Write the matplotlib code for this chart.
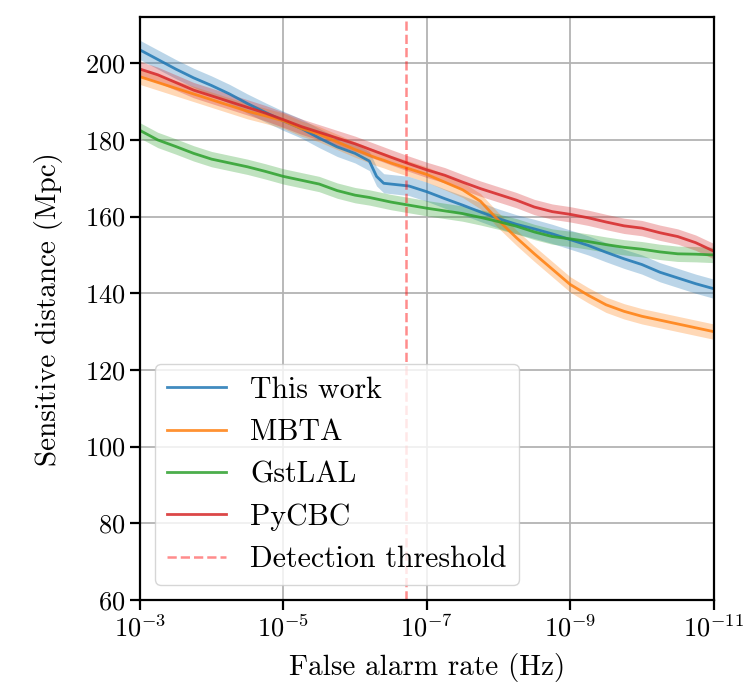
import numpy as np
import matplotlib
matplotlib.use("Agg")
import matplotlib.pyplot as plt

plt.rcParams['font.family'] = 'serif'
plt.rcParams['font.serif'] = ['cmr10', 'DejaVu Serif']
plt.rcParams['mathtext.fontset'] = 'cm'
plt.rcParams['axes.unicode_minus'] = False
plt.rcParams['axes.formatter.use_mathtext'] = True
plt.rcParams['font.size'] = 21

# false alarm rate exponents (log10 Hz)
far_exp = [-3.0, -3.25, -3.5, -3.75, -4.0, -4.25, -4.5, -4.75, -5.0, -5.25, -5.5,
           -5.75, -6.0, -6.1, -6.2, -6.3, -6.4, -6.5, -6.75, -7.0, -7.25, -7.5,
           -7.75, -8.0, -8.25, -8.5, -8.75, -9.0, -9.25, -9.5, -9.75, -10.0,
           -10.25, -10.5, -10.75, -11.0]

this_work = [203.5, 201.0, 198.5, 196.2, 194.2, 192.0, 189.5, 187.2, 185.0, 183.0, 180.5,
             178.2, 176.5, 175.5, 174.5, 170.5, 168.7, 168.5, 168.0, 166.5, 164.7, 163.0,
             161.2, 159.5, 158.0, 156.8, 155.5, 154.0, 152.5, 150.7, 149.0, 147.5,
             145.5, 144.0, 142.5, 141.2]
mbta = [196.5, 195.0, 193.5, 192.0, 190.5, 189.0, 187.5, 186.3, 185.0, 183.0, 181.5,
        179.5, 177.5, 176.8, 176.0, 175.3, 174.7, 174.0, 172.5, 171.0, 169.0, 167.0,
        164.0, 159.0, 154.5, 150.3, 146.3, 142.3, 139.5, 137.0, 135.3, 134.0,
        133.0, 132.0, 131.0, 130.0]
gstlal = [182.5, 180.0, 178.3, 176.5, 175.0, 174.0, 173.0, 171.8, 170.5, 169.5, 168.5,
          166.8, 165.6, 165.3, 165.0, 164.6, 164.2, 163.8, 163.0, 162.2, 161.5, 160.8,
          159.8, 158.7, 157.5, 156.0, 154.8, 154.2, 153.5, 152.7, 152.0, 151.5,
          150.8, 150.3, 150.2, 150.0]
pycbc = [198.5, 197.0, 195.0, 193.0, 191.5, 190.0, 188.5, 187.0, 185.3, 183.5, 182.0,
         180.5, 179.0, 178.3, 177.6, 176.9, 176.2, 175.5, 173.8, 172.2, 170.8, 169.0,
         167.3, 165.8, 164.3, 162.5, 161.3, 160.6, 159.7, 158.6, 157.6, 157.0,
         155.8, 154.8, 153.2, 151.0]

# half-width of the shaded uncertainty bands (Mpc)
err_this_work = [2.5] * len(far_exp)
err_mbta = [2.0] * len(far_exp)
err_gstlal = [2.0] * len(far_exp)
err_pycbc = [2.0] * len(far_exp)

threshold = 1.0 / (60 * 86400)  # once per two months

labels = ['This work', 'MBTA', 'GstLAL', 'PyCBC']
series = [this_work, mbta, gstlal, pycbc]
errors = [err_this_work, err_mbta, err_gstlal, err_pycbc]
colors = ['C0', 'C1', 'C2', 'C3']

far = 10.0 ** np.array(far_exp)

fig = plt.figure(figsize=(7.56, 6.92), dpi=100)
ax = fig.add_axes([0.185, 0.133, 0.759, 0.842])

for lab, y, e, c in zip(labels, series, errors, colors):
    y = np.array(y)
    e = np.array(e)
    ax.fill_between(far, y - e, y + e, color=c, alpha=0.3, lw=0)
    ax.plot(far, y, color=c, lw=2, alpha=0.85, label=lab)

ax.axvline(threshold, color='r', ls='--', alpha=0.45, lw=1.8, label='Detection threshold')

ax.set_xscale('log')
ax.set_xlim(1e-3, 1e-11)
ax.set_xticks([1e-3, 1e-5, 1e-7, 1e-9, 1e-11])
ax.minorticks_off()
ax.set_ylim(60, 212)
ax.set_yticks([60, 80, 100, 120, 140, 160, 180, 200])
ax.grid(True, color='0.7', lw=1.3)
ax.set_axisbelow(True)
for s in ax.spines.values():
    s.set_linewidth(1.6)
ax.tick_params(width=1.6, length=7, labelsize=19)
ax.set_xlabel('False alarm rate (Hz)', labelpad=8)
ax.set_ylabel('Sensitive distance (Mpc)', labelpad=16)
ax.legend(loc='lower left', fontsize=21.5, labelspacing=0.5)

fig.savefig('out.png', dpi=100)
